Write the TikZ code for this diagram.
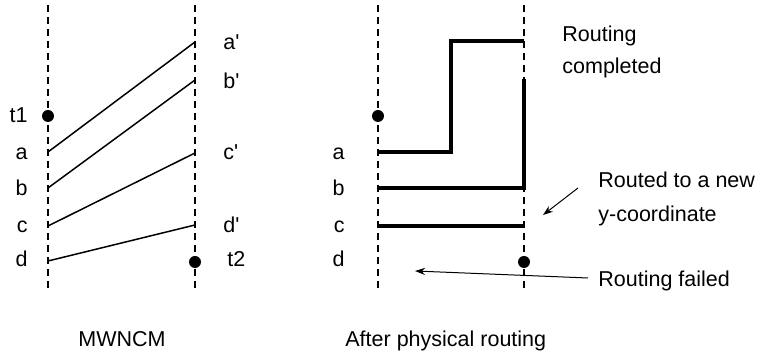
\documentclass[tikz,border=0pt]{standalone}
\usepackage{fontspec}
\setmainfont{Liberation Sans}
\usetikzlibrary{arrows.meta}
\begin{document}
\begin{tikzpicture}[x=0.5pt,y=-0.5pt,
  lbl/.style={inner sep=0pt, font=\fontsize{10.75}{13}\selectfont},
  rail/.style={line width=0.7pt, dash pattern=on 3.5pt off 2.5pt},
  thinwire/.style={line width=0.75pt},
  thickwire/.style={line width=2.2pt, line join=miter},
  pin/.style={circle, fill, inner sep=0pt, minimum size=6pt},
  pointer/.style={line width=0.5pt, -{Stealth[length=5pt,width=3.5pt]}}
]
\useasboundingbox (0,0) rectangle (757,351);

% ---------- left panel: MWNCM ----------
\coordinate (L1top) at (48,5);   \coordinate (L1bot) at (48,291);
\coordinate (L2top) at (195,5);  \coordinate (L2bot) at (195,291);
\draw[rail] (L1top) -- (L1bot);
\draw[rail] (L2top) -- (L2bot);

\coordinate (la) at (48,152);  \coordinate (ra) at (195,42);
\coordinate (lb) at (48,188);  \coordinate (rb) at (195,80);
\coordinate (lc) at (48,226);  \coordinate (rc) at (195,153);
\coordinate (ld) at (48,261);  \coordinate (rd) at (195,225);
\draw[thinwire] (la) -- (ra);
\draw[thinwire] (lb) -- (rb);
\draw[thinwire] (lc) -- (rc);
\draw[thinwire] (ld) -- (rd);

\node[pin] (t1dot) at (48,116) {};
\node[pin] (t2dot) at (195,262) {};

\node[lbl, anchor=base east] (t1) at (28,123) {t1};
\node[lbl, anchor=base east] (na) at (28,160) {a};
\node[lbl, anchor=base east] (nb) at (28,196) {b};
\node[lbl, anchor=base east] (nc) at (28,233) {c};
\node[lbl, anchor=base east] (nd) at (28,267) {d};
\node[lbl, anchor=base west] (na') at (223,50) {a\textquotesingle};
\node[lbl, anchor=base west] (nb') at (223,89) {b\textquotesingle};
\node[lbl, anchor=base west] (nc') at (223,160) {c\textquotesingle};
\node[lbl, anchor=base west] (nd') at (223,233) {d\textquotesingle};
\node[lbl, anchor=base west] (t2) at (227,267) {t2};
\node[lbl, anchor=base west] (cap1) at (78,347) {MWNCM};

% ---------- right panel: after physical routing ----------
\coordinate (R1top) at (378,5);  \coordinate (R1bot) at (378,291);
\coordinate (R2top) at (524,5);  \coordinate (R2bot) at (524,291);
\draw[rail] (R1top) -- (R1bot);
\draw[rail] (R2top) -- (R2bot);

\coordinate (pa) at (378,152); \coordinate (pa1) at (451,152);
\coordinate (pa2) at (451,41); \coordinate (qa) at (524,41);
\coordinate (pb) at (378,188); \coordinate (pb1) at (524,188);
\coordinate (qb) at (524,79);
\coordinate (pc) at (378,226); \coordinate (qc) at (524,226);
\draw[thickwire] (pa) -- (pa1) -- (pa2) -- (qa);
\draw[thickwire] (pb) -- (pb1) -- (qb);
\draw[thickwire] (pc) -- (qc);

\node[pin] (s1dot) at (378,116) {};
\node[pin] (s2dot) at (524,262) {};

\node[lbl, anchor=base east] (ma) at (345,160) {a};
\node[lbl, anchor=base east] (mb) at (345,196) {b};
\node[lbl, anchor=base east] (mc) at (345,233) {c};
\node[lbl, anchor=base east] (md) at (345,267) {d};
\node[lbl, anchor=base west] (cap2) at (345,347) {After physical routing};

% annotations
\node[lbl, anchor=base west] (done1) at (562,42) {Routing};
\node[lbl, anchor=base west] (done2) at (562,74) {completed};
\node[lbl, anchor=base west] (moved1) at (598,188) {Routed to a new};
\node[lbl, anchor=base west] (moved2) at (598,222) {y-coordinate};
\node[lbl, anchor=base west] (fail) at (598,287) {Routing failed};

\coordinate (mvTail) at (578,188); \coordinate (mvHead) at (543,215);
\draw[pointer] (mvTail) -- (mvHead);
\coordinate (flTail) at (588,278); \coordinate (flHead) at (415,271);
\draw[pointer] (flTail) -- (flHead);
\end{tikzpicture}
\end{document}
